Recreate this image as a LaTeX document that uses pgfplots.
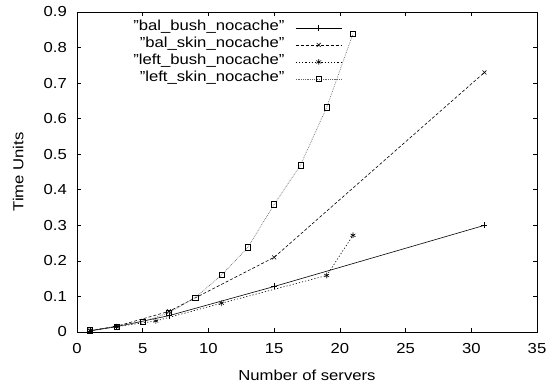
\documentclass[border=0pt]{standalone}
\usepackage{pgfplots}
\pgfplotsset{compat=1.18}
\usepackage{graphicx}
\usepackage{fontspec}
\setmainfont{Liberation Sans}
% slightly widened lettering
\newcommand\sx[1]{\scalebox{1.15}[1]{#1}}

\begin{document}
\begin{tikzpicture}[x=1pt,y=1pt]
\useasboundingbox (0,0) rectangle (549,388);
\begin{axis}[
  at={(77pt,56pt)}, anchor=south west,
  scale only axis, width=460pt, height=320pt,
  xmin=0, xmax=35, ymin=0, ymax=0.9,
  xtick={0,5,10,15,20,25,30,35},
  ytick={0,0.1,0.2,0.3,0.4,0.5,0.6,0.7,0.8,0.9},
  tick align=inside, major tick length=4pt,
  tick style={black, line width=0.6pt},
  axis line style={line width=0.8pt},
  /pgf/number format/assume math mode=true,
  /pgf/number format/fixed,
  xticklabel={\sx{\pgfmathprintnumber[precision=0]{\tick}}},
  yticklabel={\sx{\pgfmathprintnumber[fixed,precision=1]{\tick}}},
  yticklabel style={anchor=east, inner sep=0pt},
  yticklabel shift=10pt,
  xticklabel style={anchor=base, inner sep=0pt, yshift=-22pt},
  font=\fontsize{14.5}{16}\selectfont,
  xlabel={\sx{Number of servers}},
  ylabel={\sx{Time Units}},
  xlabel style={at={(axis description cs:0.5,-0.134)}, anchor=center, inner sep=0pt},
  ylabel style={at={(axis description cs:-0.128,0.5)}, anchor=center, rotate=0, inner sep=0pt},
  legend plot pos=right,
  legend cell align=right,
  legend image code/.code={%
    \draw[mark repeat=2,mark phase=2] plot coordinates {(0pt,0pt)(23pt,0pt)(46pt,0pt)};},
  legend style={draw=none, fill=none, at={(0.5761,0.969)}, anchor=north east,
    row sep=5pt, column sep=11pt, inner sep=0pt, outer sep=0pt,
    nodes={inner sep=0pt, text height=9pt, text depth=3pt}},
  every axis plot/.append style={line width=0.6pt},
]
% balanced trees, bushy layout
\addplot[black, solid, mark=+, mark size=3pt, mark options={solid}]
  coordinates {(1,0.003)(3,0.015)(7,0.046)(15,0.128)(31,0.300)};
\addlegendentry{\sx{"bal\_bush\_nocache"}}
% balanced trees, skinny layout
\addplot[black, dash pattern=on 3pt off 2pt, mark=x, mark size=2.8pt, mark options={solid}]
  coordinates {(1,0.004)(3,0.016)(7,0.058)(15,0.210)(31,0.730)};
\addlegendentry{\sx{"bal\_skin\_nocache"}}
% left-deep trees, bushy layout
\addplot[black, dash pattern=on 1.2pt off 2pt, mark=asterisk, mark size=2.8pt, mark options={solid}]
  coordinates {(1,0.004)(3,0.015)(6,0.031)(11,0.081)(19,0.159)(21,0.272)};
\addlegendentry{\sx{"left\_bush\_nocache"}}
% left-deep trees, skinny layout
\addplot[black!60, dash pattern=on 0.8pt off 1pt, mark=square, mark size=2.6pt,
  mark options={solid, black}]
  coordinates {(1,0.005)(3,0.015)(5,0.029)(7,0.054)(9,0.097)(11,0.160)
               (13,0.238)(15,0.359)(17,0.469)(19,0.632)(21,0.839)};
\addlegendentry{\sx{"left\_skin\_nocache"}}
\end{axis}
\end{tikzpicture}
\end{document}
